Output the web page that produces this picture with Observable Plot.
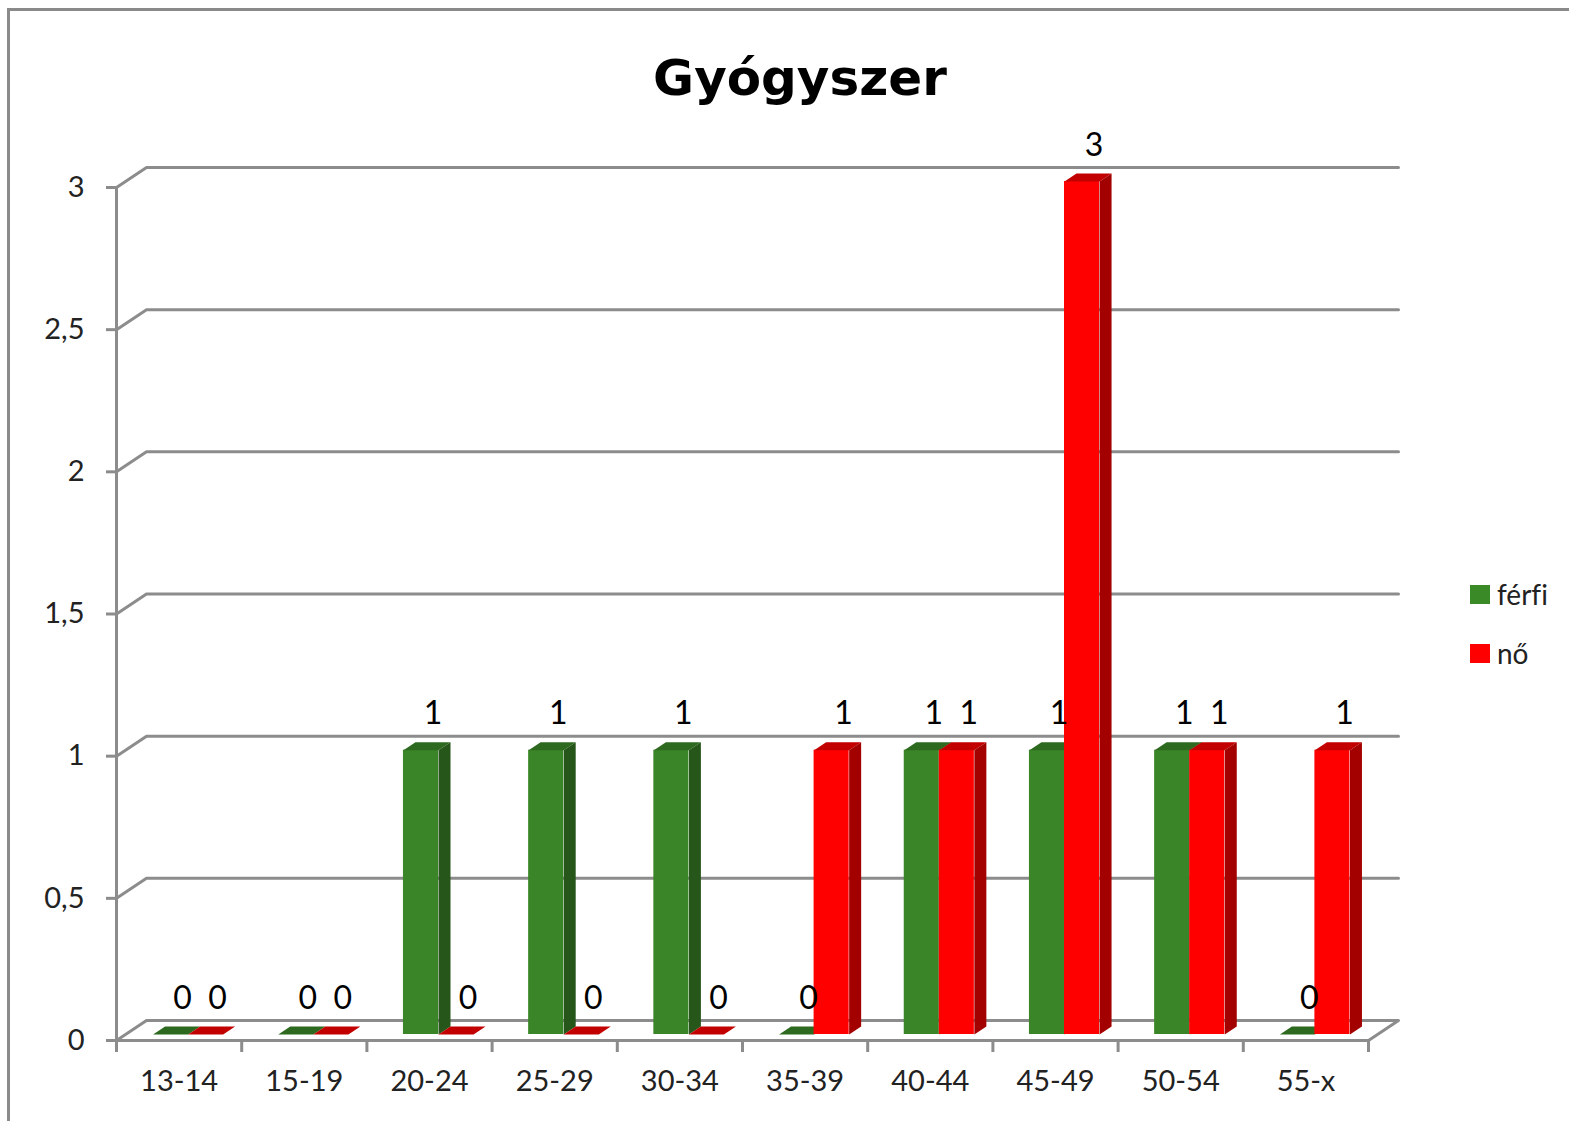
<!DOCTYPE html>
<html>
<head>
<meta charset="utf-8">
<script src="https://cdn.jsdelivr.net/npm/d3@7"></script>
<script src="https://cdn.jsdelivr.net/npm/@observablehq/plot@0.6"></script>
<style>
  html, body { margin: 0; padding: 0; background: #fff; overflow: hidden; }
  #wrap { position: relative; width: 1569px; height: 1121px; overflow: hidden; background: #fff; font-variant-ligatures: none; }
  #frame { position: absolute; left: 7px; top: 8px; width: 1700px; height: 1300px; border: 3px solid #8a8a8a; box-sizing: border-box; }
  #title { position: absolute; left: 0; top: 53px; width: 1600px; text-align: center; font-family: "DejaVu Sans", sans-serif; font-weight: bold; font-size: 50px; line-height: 50px; color: #000; }
  #chart { position: absolute; left: 0; top: 130px; }
  #chart svg text { font-variant-ligatures: none; }
  .leg { position: absolute; font-family: Lato, "Open Sans", sans-serif; font-size: 28px; color: #222; line-height: 28px; font-variant-ligatures: none; }
  .sw { position: absolute; width: 20px; height: 19px; }
</style>
</head>
<body>
<div id="wrap">
  <div id="frame"></div>
  <div id="title">Gyógyszer</div>
  <div id="chart"></div>
  <div id="legend"></div>
</div>
<script>
// ---- data ----
const categories = ["13-14", "15-19", "20-24", "25-29", "30-34", "35-39", "40-44", "45-49", "50-54", "55-x"];
const ferfi = [0, 0, 1, 1, 1, 0, 1, 1, 1, 0];
const no = [0, 0, 0, 0, 0, 1, 1, 3, 1, 1];
const seriesNames = ["férfi", "nő"];
const yTicks = [0, 0.5, 1, 1.5, 2, 2.5, 3];

// ---- styling / layout ----
const colors = {
  "férfi": {front: "#3a8527", side: "#26561a", top: "#2d6a1f", legend: "#3a8a27"},
  "nő": {front: "#ff0000", side: "#a30000", top: "#c20000", legend: "#ff0000"}
};
const W = 1569, H = 991;
const mL = 116, mR = 201, mT = 57, mB = 81;
const kx = (W - mL - mR) / categories.length;   // px per x unit
const ky = (H - mT - mB) / 3;                   // px per y unit
const WX = 30 / kx, WY = 20 / ky;               // wall depth in data units
const fD = 0.3, bD = 0.7;                       // bar depth front/back fractions
const grid = "#8c8c8c";

// ---- derived tables ----
const bars = [];
categories.forEach((c, i) => {
  [ferfi[i], no[i]].forEach((v, s) => {
    const x1 = i + 0.22 + 0.28 * s, x2 = x1 + 0.28;
    bars.push({id: c + s, cat: c, series: seriesNames[s], v, x1, x2});
  });
});
function faces(series) {
  const bs = bars.filter(b => b.series === series);
  const top = [], side = [];
  for (const b of bs) {
    top.push({id: b.id, x: b.x1 + fD * WX, y: b.v + fD * WY});
    top.push({id: b.id, x: b.x2 + fD * WX, y: b.v + fD * WY});
    top.push({id: b.id, x: b.x2 + bD * WX, y: b.v + bD * WY});
    top.push({id: b.id, x: b.x1 + bD * WX, y: b.v + bD * WY});
    side.push({id: b.id, x: b.x2 + fD * WX, y: fD * WY});
    side.push({id: b.id, x: b.x2 + fD * WX, y: b.v + fD * WY});
    side.push({id: b.id, x: b.x2 + bD * WX, y: b.v + bD * WY});
    side.push({id: b.id, x: b.x2 + bD * WX, y: bD * WY});
  }
  return {bs, top, side};
}
const n = categories.length;
const gridLines = [];
yTicks.filter(v => v > 0).forEach(v => {
  gridLines.push({z: v, x: 0, y: v}, {z: v, x: WX, y: v + WY}, {z: v, x: n + WX, y: v + WY});
});
const floor = [{x: 0, y: 0}, {x: WX, y: WY}, {x: n + WX, y: WY}, {x: n, y: 0}];

const barMarks = [];
for (const s of seriesNames) {
  const f = faces(s);
  barMarks.push(
    Plot.rect(f.bs, {x1: d => d.x1 + fD * WX, x2: d => d.x2 + fD * WX, y1: fD * WY, y2: d => d.v + fD * WY, fill: colors[s].front}),
    Plot.line(f.top, {x: "x", y: "y", z: "id", fill: colors[s].top, stroke: "none"}),
    Plot.line(f.side, {x: "x", y: "y", z: "id", fill: colors[s].side, stroke: "none"})
  );
}

const chart = Plot.plot({
  width: W, height: H,
  marginLeft: mL, marginRight: mR, marginTop: mT, marginBottom: mB,
  style: {fontFamily: "Lato, 'Open Sans', sans-serif", fontSize: "29px", background: "transparent", overflow: "visible"},
  x: {domain: [0, n]},
  y: {domain: [0, 3]},
  marks: [
    Plot.line(gridLines, {x: "x", y: "y", z: "z", stroke: grid, strokeWidth: 3}),
    Plot.line(floor, {x: "x", y: "y", stroke: grid, strokeWidth: 3}),
    Plot.ruleX([0], {y1: 0, y2: 3, stroke: grid, strokeWidth: 3}),
    Plot.ruleY([0], {x1: 0, x2: n, stroke: grid, strokeWidth: 3}),
    Plot.ruleX(d3.range(n + 1), {y1: 0, y2: -12 / ky, stroke: grid, strokeWidth: 3}),
    Plot.ruleY(yTicks, {x1: 0, x2: -10 / kx, stroke: grid, strokeWidth: 3}),
    Plot.axisY({ticks: yTicks, tickSize: 0, tickPadding: 32, tickFormat: d => String(d).replace(".", ","), fill: "#222", fontSize: 29, label: null}),
    Plot.axisX({ticks: d3.range(n).map(i => i + 0.5), tickSize: 0, tickPadding: 30, tickFormat: d => categories[Math.floor(d)], fill: "#222", fontSize: 29, label: null}),
    ...barMarks,
    Plot.text(bars, {x: d => (d.x1 + d.x2) / 2 + fD * WX, y: d => d.v + fD * WY, text: d => String(d.v), dx: 12, dy: -36, fill: "#000", fontSize: 32, lineAnchor: "middle"})
  ]
});
document.getElementById("chart").appendChild(chart);

// legend
const leg = document.getElementById("legend");
seriesNames.forEach((s, i) => {
  const top = 585 + i * 59;
  const sw = document.createElement("div");
  sw.className = "sw";
  sw.style.left = "1470px"; sw.style.top = top + "px"; sw.style.background = colors[s].legend;
  leg.appendChild(sw);
  const t = document.createElement("div");
  t.className = "leg";
  t.style.left = "1497px"; t.style.top = (top - 5) + "px";
  t.textContent = s;
  leg.appendChild(t);
});
</script>
</body>
</html>
